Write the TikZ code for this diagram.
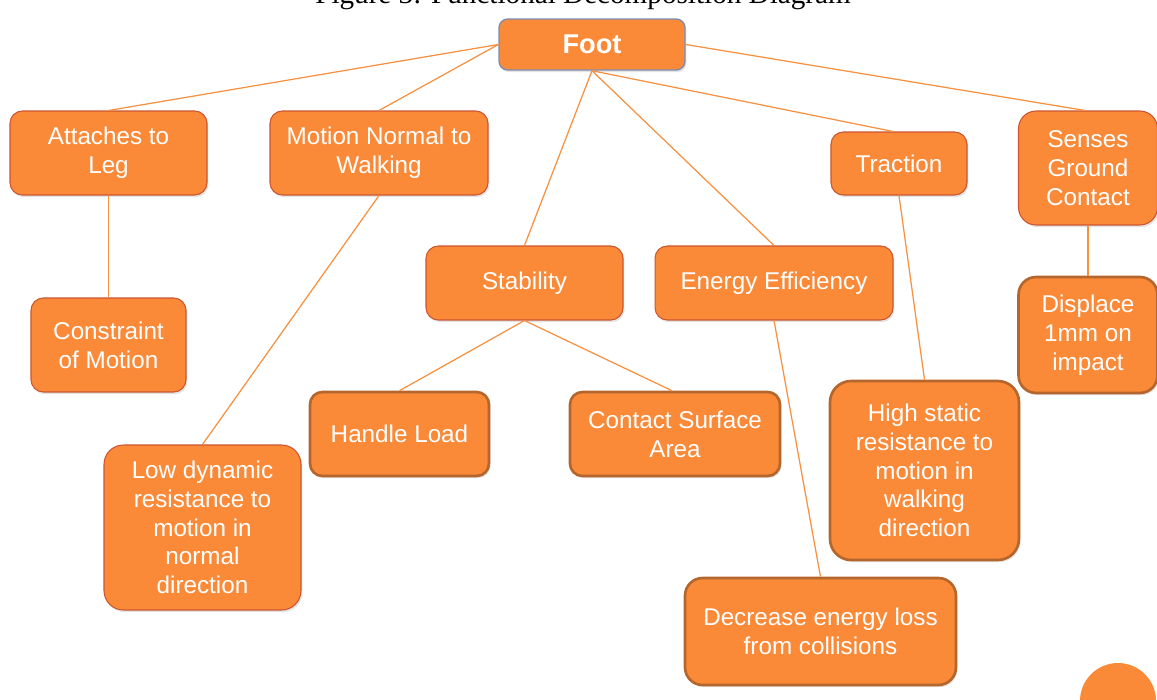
\documentclass[tikz,border=0pt]{standalone}
\usepackage{fontspec}
\setmainfont{Liberation Sans}
\newfontfamily\titlefont{Liberation Serif}
\usetikzlibrary{shadows}
\definecolor{boxfill}{HTML}{FA8A38}
\definecolor{topborder}{HTML}{CC5530}
\definecolor{lowborder}{HTML}{B5662C}
\definecolor{footborder}{HTML}{7F8CB0}
\definecolor{linkcol}{HTML}{F7903F}
\tikzset{
  base/.style={rounded corners=#1, fill=boxfill, text=white, align=center,
    font=\fontsize{13.8}{16.4}\selectfont, inner sep=2pt,
    drop shadow={opacity=0.22, shadow xshift=0.8pt, shadow yshift=-1.2pt}},
  topbox/.style={base=#1, draw=topborder, line width=0.6pt},
  topbox/.default=7pt,
  lowbox/.style={base=#1, draw=lowborder, line width=1.5pt},
  lowbox/.default=7pt,
  link/.style={draw=linkcol, line width=0.7pt}
}
\begin{document}
\begin{tikzpicture}[x=0.02cm, y=-0.02cm]
\useasboundingbox (0,0) rectangle (1157,700);
\fill[white] (0,0) rectangle (1157,700);
% title (partially cut off at top, as in the reference)
\node[anchor=base, inner sep=0pt, font=\titlefont\fontsize{16.6}{20}\selectfont] (title) at (583,3) {Figure 3: Functional Decomposition Diagram};
% corner circle
\fill[boxfill] (1118,701) circle (38);
% nodes
\node[base=5pt, draw=footborder, line width=0.8pt, minimum width=3.72cm, minimum height=1.02cm, font=\bfseries\fontsize{15.5}{18}\selectfont] (foot) at (592,44.5) {Foot};
\node[topbox, minimum width=3.94cm, minimum height=1.68cm] (att) at (108.5,153) {Attaches to\\Leg};
\node[topbox, minimum width=4.36cm, minimum height=1.68cm] (mot) at (379,153) {Motion Normal to\\Walking};
\node[topbox, minimum width=2.72cm, minimum height=1.26cm] (tra) at (899,163.5) {Traction};
\node[topbox=10pt, minimum width=2.78cm, minimum height=2.28cm] (sen) at (1088,168) {Senses\\Ground\\Contact};
\node[topbox, minimum width=3.10cm, minimum height=1.88cm] (con) at (108.5,345) {Constraint\\of Motion};
\node[topbox, minimum width=3.94cm, minimum height=1.48cm] (sta) at (524.5,283) {Stability};
\node[topbox, minimum width=4.76cm, minimum height=1.48cm] (ene) at (774,283) {Energy Efficiency};
\node[lowbox=10pt, minimum width=2.78cm, minimum height=2.32cm] (dis) at (1088,335) {Displace\\1mm on\\impact};
\node[lowbox, minimum width=3.58cm, minimum height=1.68cm] (han) at (399.5,434) {Handle Load};
\node[lowbox, minimum width=4.20cm, minimum height=1.68cm] (csa) at (675,434) {Contact Surface\\Area};
\node[lowbox=12pt, minimum width=3.78cm, minimum height=3.58cm] (hig) at (924.5,470.5) {High static\\resistance to\\motion in\\walking\\direction};
\node[topbox=11pt, minimum width=3.94cm, minimum height=3.30cm] (low) at (202.5,527.5) {Low dynamic\\resistance to\\motion in\\normal\\direction};
\node[lowbox=10pt, minimum width=5.42cm, minimum height=2.14cm] (dec) at (820.5,631.5) {Decrease energy loss\\from collisions};
% links
\path[link] (foot.west) -- (att.north);
\path[link] (foot.west) -- (mot.north);
\path[link] (foot.south) -- (sta.north);
\path[link] (foot.south) -- (ene.north);
\path[link] (foot.south) -- ([xshift=-0.12cm]tra.north);
\path[link] (foot.east) -- ([xshift=-0.06cm]sen.north);
\path[link] (att.south) -- (con.north);
\path[link] (mot.south) -- (low.north);
\path[link] (sta.south) -- (han.north);
\path[link] (sta.south) -- ([xshift=-0.06cm]csa.north);
\path[link] (ene.south) -- (dec.north);
\path[link] (tra.south) -- (hig.north);
\path[link] (sen.south) -- (dis.north);
\end{tikzpicture}
\end{document}
